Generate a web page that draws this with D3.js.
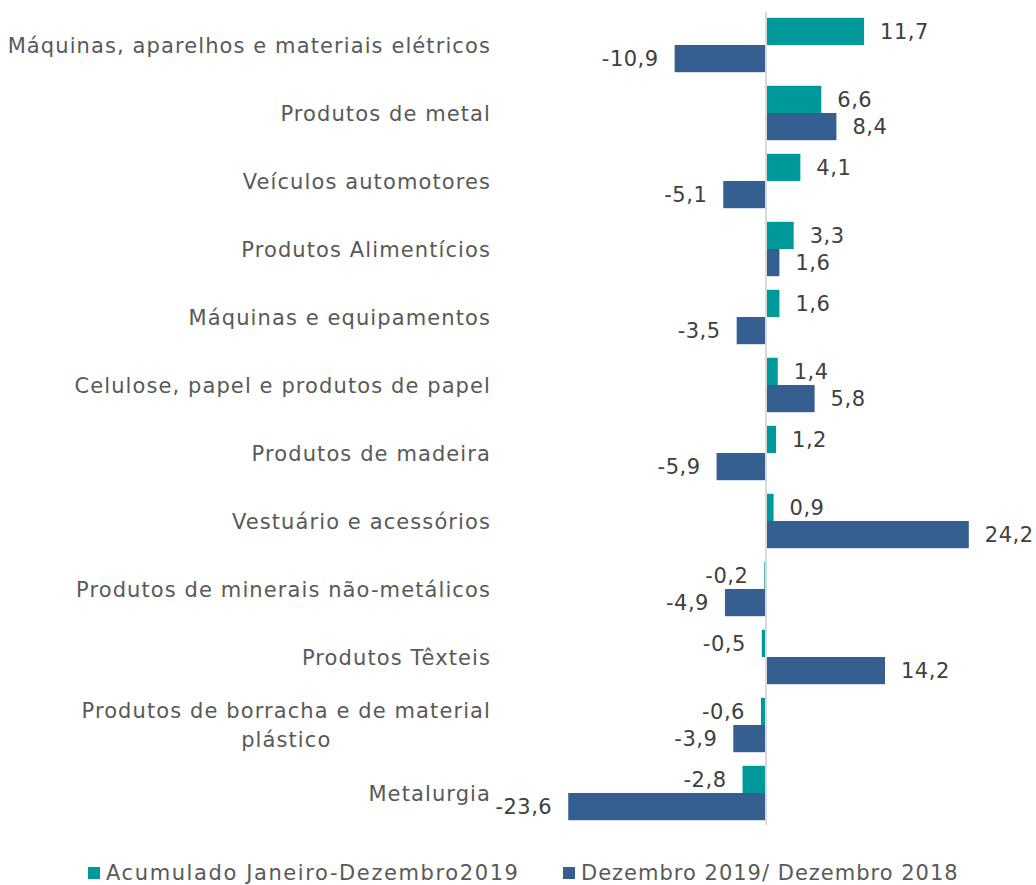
<!DOCTYPE html>
<html>
<head>
<meta charset="utf-8">
<script src="https://cdn.jsdelivr.net/npm/d3@7"></script>
<style>
  body { margin: 0; background: #fff; }
  text { font-family: "DejaVu Sans", sans-serif; }
</style>
</head>
<body>
<script>
// data
const categories = [
  'Máquinas, aparelhos e materiais elétricos',
  'Produtos de metal',
  'Veículos automotores',
  'Produtos Alimentícios',
  'Máquinas e equipamentos',
  'Celulose, papel e produtos de papel',
  'Produtos de madeira',
  'Vestuário e acessórios',
  'Produtos de minerais não-metálicos',
  'Produtos Têxteis',
  'Produtos de borracha e de material plástico',
  'Metalurgia'
]
const acumulado = [11.7, 6.6, 4.1, 3.3, 1.6, 1.4, 1.2, 0.9, -0.2, -0.5, -0.6, -2.8]
const dezembro = [-10.9, 8.4, -5.1, 1.6, -3.5, 5.8, -5.9, 24.2, -4.9, 14.2, -3.9, -23.6]
const seriesNames = ['Acumulado Janeiro-Dezembro2019', 'Dezembro 2019/ Dezembro 2018']
const colors = ['#009999', '#365F91']

const width = 1036
const height = 885
const fmt = d => d.toFixed(1).replace('.', ',')

const svg = d3.select('body')
  .append('svg')
  .attr('width', width)
  .attr('height', height)

// scales
const x = d3.scaleLinear()
  .domain([-25, 25])
  .range([556.5, 975.5])

const y = d3.scaleBand()
  .domain(categories)
  .range([11, 827])
  .paddingInner(0.2)
  .paddingOuter(0.1)

const inner = d3.scaleBand()
  .domain([0, 1])
  .range([0, y.bandwidth()])

const rows = categories.map((c, i) => ({ cat: c, values: [acumulado[i], dezembro[i]] }))

// bars
const groups = svg.append('g')
  .selectAll('g')
  .data(rows)
  .join('g')
  .attr('transform', d => `translate(0, ${y(d.cat)})`)

groups.selectAll('rect')
  .data(d => d.values.map((v, s) => ({ v, s })))
  .join('rect')
  .attr('x', d => x(Math.min(0, d.v)))
  .attr('y', d => inner(d.s))
  .attr('width', d => Math.abs(x(d.v) - x(0)))
  .attr('height', inner.bandwidth())
  .attr('fill', d => colors[d.s])

// value labels
groups.selectAll('text')
  .data(d => d.values.map((v, s) => ({ v, s })))
  .join('text')
  .attr('x', d => d.v >= 0 ? x(d.v) + 16 : x(d.v) - 16)
  .attr('y', d => inner(d.s) + inner.bandwidth() / 2)
  .attr('dy', '0.36em')
  .attr('text-anchor', d => d.v >= 0 ? 'start' : 'end')
  .attr('font-size', 21)
  .attr('letter-spacing', 0.5)
  .attr('fill', '#404040')
  .text(d => fmt(d.v))

// zero axis
svg.append('line')
  .attr('x1', x(0)).attr('x2', x(0))
  .attr('y1', 12).attr('y2', 825)
  .attr('stroke', '#d9d9d9')
  .attr('stroke-width', 2)

// category labels
const labelX = 491
const wrap = {
  'Produtos de borracha e de material plástico': ['Produtos de borracha e de material', 'plástico']
}
categories.forEach(c => {
  const cy = y(c) + y.bandwidth() / 2
  const lines = wrap[c] || [c]
  if (lines.length === 1) {
    svg.append('text')
      .attr('x', labelX)
      .attr('y', cy)
      .attr('dy', '0.36em')
      .attr('text-anchor', 'end')
      .attr('font-size', 21)
      .attr('letter-spacing', 1.1)
      .attr('fill', '#595959')
      .text(c)
  } else {
    const first = svg.append('text')
      .attr('x', labelX)
      .attr('y', cy - 15)
      .attr('dy', '0.36em')
      .attr('text-anchor', 'end')
      .attr('font-size', 21)
      .attr('letter-spacing', 1.1)
      .attr('fill', '#595959')
      .text(lines[0])
    const w = first.node().getComputedTextLength()
    svg.append('text')
      .attr('x', labelX - w / 2)
      .attr('y', cy + 14)
      .attr('dy', '0.36em')
      .attr('text-anchor', 'middle')
      .attr('font-size', 21)
      .attr('letter-spacing', 1.1)
      .attr('fill', '#595959')
      .text(lines[1])
  }
})

// legend
const legendX = [88, 563]
const legend = svg.append('g')
  .selectAll('g')
  .data(seriesNames)
  .join('g')
  .attr('transform', (d, i) => `translate(${legendX[i]}, 872)`)

legend.append('rect')
  .attr('x', 0).attr('y', -5)
  .attr('width', 12).attr('height', 12)
  .attr('fill', (d, i) => colors[i])

legend.append('text')
  .attr('x', 18)
  .attr('dy', '0.36em')
  .attr('font-size', 21)
  .attr('letter-spacing', (d, i) => i === 0 ? 1.6 : 1.0)
  .attr('fill', '#595959')
  .text(d => d)
</script>
</body>
</html>
